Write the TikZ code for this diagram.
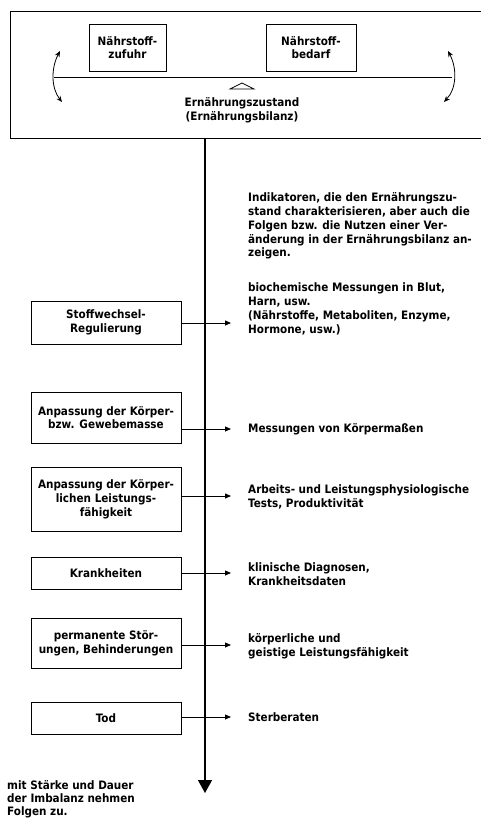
\documentclass[tikz,border=0pt]{standalone}
\usepackage{fontspec}
\setmainfont{DejaVu Sans Condensed}
\usetikzlibrary{arrows.meta}
\begin{document}
\begin{tikzpicture}[x=1pt,y=-1pt,
  every node/.style={font=\fontsize{11.6}{13.8}\selectfont\bfseries, inner sep=0pt},
  lbox/.style={draw, line width=0.8pt, minimum width=150pt, align=center},
  tbox/.style={draw, line width=0.8pt, minimum height=47pt, align=center},
  rtxt/.style={anchor=west, align=left},
  harrow/.style={line width=0.8pt, -{Triangle[length=6pt,width=5pt]}},
  swing/.style={line width=0.8pt, {Stealth[length=6pt,width=5pt]}-{Stealth[length=6pt,width=5pt]}}
]
\useasboundingbox (0,0) rectangle (481,821);
% outer frame
\draw[line width=0.8pt] (482,11) -- (10,11) -- (10,138) -- (482,138);
% top boxes
\node[tbox, minimum width=77pt] (zuf) at (127.5,47.5) {Nährstoff-\\zufuhr};
\node[tbox, minimum width=90pt] (bed) at (311,47.5) {Nährstoff-\\bedarf};
% balance beam
\coordinate (beamL) at (54,77);
\coordinate (beamR) at (452,77);
\draw[line width=0.8pt] (beamL) -- (beamR);
\draw[line width=0.7pt] (230,89) -- (242,83) -- (254,89) -- cycle;
\draw[swing] (60,51) .. controls (51,68) and (51,88) .. (62,102);
\draw[swing] (448,51) .. controls (457,68) and (457,88) .. (444,102);
\node[align=center] (ez) at (242,110) {Ernährungszustand\\(Ernährungsbilanz)};
% main axis
\coordinate (axtop) at (205,138);
\coordinate (axbot) at (205,793);
\draw[line width=1.4pt, -{Triangle[length=13pt,width=14pt]}] (axtop) -- (axbot);
% indicator header
\node[rtxt] (ind) at (248,226) {Indikatoren, die den Ernährungszu-\\stand charakterisieren, aber auch die\\Folgen bzw. die Nutzen einer Ver-\\änderung in der Ernährungsbilanz an-\\zeigen.};
% left boxes
\node[lbox, minimum height=43pt] (b1) at (106,322.5) {Stoffwechsel-\\Regulierung};
\node[lbox, minimum height=51pt] (b2) at (106,417.5) {Anpassung der Körper-\\bzw. Gewebemasse};
\node[lbox, minimum height=64pt] (b3) at (106,499) {Anpassung der Körper-\\lichen Leistungs-\\fähigkeit};
\node[lbox, minimum height=32pt] (b4) at (106,573) {Krankheiten};
\node[lbox, minimum height=50pt] (b5) at (106,643) {permanente Stör-\\ungen, Behinderungen};
\node[lbox, minimum height=32pt] (b6) at (106,718) {Tod};
% right texts
\node[rtxt] (r1) at (248,309) {biochemische Messungen in Blut,\\Harn, usw.\\(Nährstoffe, Metaboliten, Enzyme,\\Hormone, usw.)};
\node[rtxt] (r2) at (248,429) {Messungen von Körpermaßen};
\node[rtxt] (r3) at (248,497) {Arbeits- und Leistungsphysiologische\\Tests, Produktivität};
\node[rtxt] (r4) at (248,574) {klinische Diagnosen,\\Krankheitsdaten};
\node[rtxt] (r5) at (248,646.5) {körperliche und\\geistige Leistungsfähigkeit};
\node[rtxt] (r6) at (248,717) {Sterberaten};
% arrow ends
\coordinate (e1) at (231,323);
\coordinate (e2) at (231,429);
\coordinate (e3) at (231,496);
\coordinate (e4) at (231,573);
\coordinate (e5) at (231,645);
\coordinate (e6) at (231,717);
\draw[harrow] (b1.east |- e1) -- (e1);
\draw[harrow] (b2.east |- e2) -- (e2);
\draw[harrow] (b3.east |- e3) -- (e3);
\draw[harrow] (b4.east |- e4) -- (e4);
\draw[harrow] (b5.east |- e5) -- (e5);
\draw[harrow] (b6.east |- e6) -- (e6);
% bottom note
\node[rtxt, font=\fontsize{11.6}{13}\selectfont\bfseries] (note) at (7,799) {mit Stärke und Dauer\\der Imbalanz nehmen\\Folgen zu.};
\end{tikzpicture}
\end{document}
